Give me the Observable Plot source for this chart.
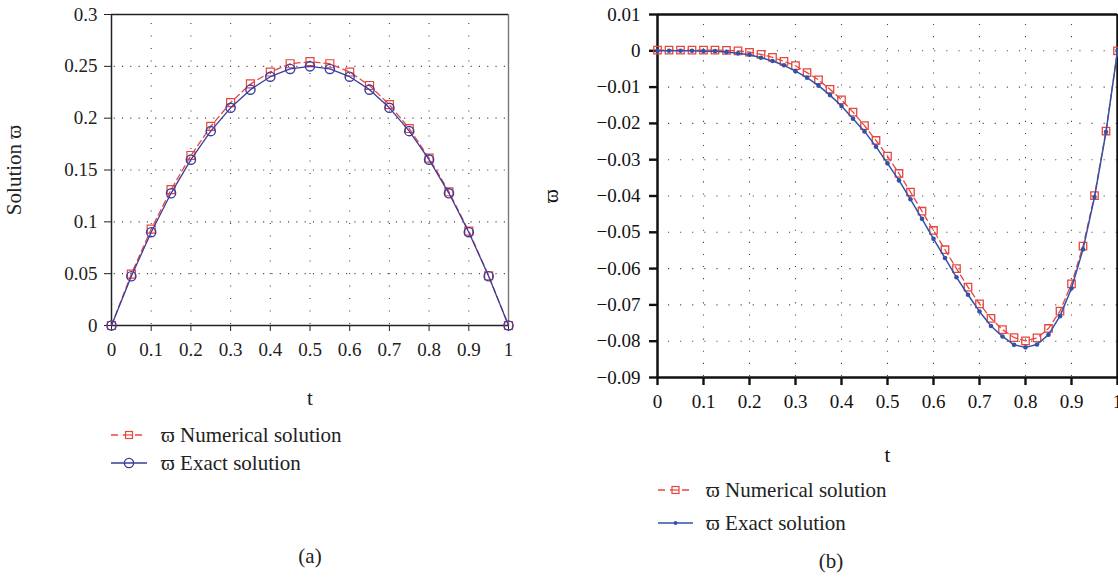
<!DOCTYPE html>
<html><head><meta charset="utf-8">
<script src="https://cdn.jsdelivr.net/npm/d3@7"></script>
<script src="https://cdn.jsdelivr.net/npm/@observablehq/plot@0.6"></script>
<style>
html,body{margin:0;padding:0;background:#fff;overflow:hidden;width:1118px;height:578px;}
body{position:relative;font-family:"Liberation Serif","Times New Roman",serif;color:#222;}
.abs{position:absolute;}
.leg{position:absolute;font-size:21px;line-height:22px;white-space:nowrap;transform:translateY(-50%);}
.sw{position:absolute;}
.cap{position:absolute;font-size:21px;line-height:22px;transform:translate(-50%,-50%);white-space:nowrap;}
#b svg [aria-label="x-axis tick"], #b svg [aria-label="y-axis tick"]{stroke-width:2.4px;}
svg [aria-label="x-axis label"], svg [aria-label="y-axis label"]{font-size:21px;}
</style></head><body>
<div id="a" class="abs" style="left:0;top:0"></div>
<div id="b" class="abs" style="left:540px;top:0"></div>
<div id="legends"></div>
<script>
// ---------- data: panel (a) ----------
const tA = [0,0.05,0.1,0.15,0.2,0.25,0.3,0.35,0.4,0.45,0.5,0.55,0.6,0.65,0.7,0.75,0.8,0.85,0.9,0.95,1];
const exactA = [0,0.0475,0.09,0.1275,0.16,0.1875,0.21,0.2275,0.24,0.2475,0.25,0.2475,0.24,0.2275,0.21,0.1875,0.16,0.1275,0.09,0.0475,0];
const numA = [0,0.0495,0.093,0.131,0.164,0.192,0.215,0.233,0.2445,0.2525,0.2545,0.2525,0.2445,0.2315,0.213,0.19,0.1615,0.129,0.091,0.048,0];
const xTicksA = [0,0.1,0.2,0.3,0.4,0.5,0.6,0.7,0.8,0.9,1];
const yTicksA = [0,0.05,0.1,0.15,0.2,0.25,0.3];
const gridXA = [0.1,0.2,0.3,0.4,0.5,0.6,0.7,0.8,0.9];
const gridYA = [0.05,0.1,0.15,0.2,0.25];

// ---------- data: panel (b) ----------
const tB = [0,0.025,0.05,0.075,0.1,0.125,0.15,0.175,0.2,0.225,0.25,0.275,0.3,0.325,0.35,0.375,0.4,0.425,0.45,0.475,0.5,0.525,0.55,0.575,0.6,0.625,0.65,0.675,0.7,0.725,0.75,0.775,0.8,0.825,0.85,0.875,0.9,0.925,0.95,0.975,1];
const exactB = [0,0,0,0,-0.0001,-0.0001,-0.0003,-0.0007,-0.0011,-0.0019,-0.0028,-0.0040,-0.0056,-0.0074,-0.0096,-0.0122,-0.0152,-0.0187,-0.0222,-0.0264,-0.0310,-0.0357,-0.0409,-0.0463,-0.0518,-0.0571,-0.0624,-0.0672,-0.0718,-0.0758,-0.0787,-0.0810,-0.0817,-0.0809,-0.0782,-0.0731,-0.0654,-0.0547,-0.0403,-0.0224,0];
const numB = [0.0002,0.0002,0.0002,0.0002,0.0002,0.0002,0.0001,0,-0.0004,-0.0010,-0.0018,-0.0029,-0.0041,-0.0060,-0.0080,-0.0106,-0.0135,-0.0169,-0.0206,-0.0247,-0.0290,-0.0338,-0.0389,-0.0442,-0.0495,-0.0548,-0.0600,-0.0651,-0.0697,-0.0737,-0.0768,-0.0790,-0.0799,-0.0791,-0.0765,-0.0717,-0.0642,-0.0538,-0.0399,-0.0221,0];
const xTicksB = [0,0.1,0.2,0.3,0.4,0.5,0.6,0.7,0.8,0.9,1];
const yTicksB = [0.01,0,-0.01,-0.02,-0.03,-0.04,-0.05,-0.06,-0.07,-0.08,-0.09];
const gridXB = [0.1,0.2,0.3,0.4,0.5,0.6,0.7,0.8,0.9];
const gridYB = [0,-0.01,-0.02,-0.03,-0.04,-0.05,-0.06,-0.07,-0.08];

const seriesNames = ["\u03D6 Numerical solution", "\u03D6 Exact solution"];

const RED = "#e8453c", BLUE_A = "#3c3c9e", BLUE_B = "#3152a6";
const FONT = '"Liberation Serif","Times New Roman",serif';
const fmt = d => d === 0 ? "0" : (d < 0 ? "\u2212" : "") + String(+Math.abs(d).toFixed(3));

const rowsA = tA.map((t, i) => ({t, num: numA[i], exact: exactA[i]}));
const rowsB = tB.map((t, i) => ({t, num: numB[i], exact: exactB[i]}));

const plotA = Plot.plot({
  width: 530, height: 410,
  marginLeft: 111, marginRight: 22, marginTop: 14, marginBottom: 85,
  style: {fontFamily: FONT, fontSize: "19px", color: "#222", background: "transparent"},
  x: {domain: [0, 1], ticks: xTicksA, tickSize: 6, tickPadding: 11, tickFormat: fmt,
      label: "t", labelAnchor: "center", labelOffset: 79, labelArrow: "none"},
  y: {domain: [0, 0.3], ticks: yTicksA, tickSize: 7, tickPadding: 7, tickFormat: fmt,
      label: "Solution \u03D6", labelAnchor: "center", labelOffset: 105, labelArrow: "none"},
  marks: [
    Plot.ruleX(gridXA, {stroke: "#444", strokeWidth: 1.1, strokeDasharray: "1.1,11.4", strokeDashoffset: -9}),
    Plot.ruleY(gridYA, {stroke: "#444", strokeWidth: 1.1, strokeDasharray: "1.1,7.2", strokeDashoffset: -11}),
    Plot.ruleX([1], {stroke: "#777", strokeWidth: 1.4}),
    Plot.ruleY([0.3], {stroke: "#222", strokeWidth: 1.4}),
    Plot.ruleX([0], {stroke: "#222", strokeWidth: 1.5}),
    Plot.ruleY([0], {stroke: "#222", strokeWidth: 1.5}),
    Plot.line(rowsA, {x: "t", y: "num", stroke: RED, strokeWidth: 1.3, strokeDasharray: "6,4"}),
    Plot.dot(rowsA, {x: "t", y: "num", symbol: "square", r: 4.5, stroke: RED, fill: "none", strokeWidth: 1.2}),
    Plot.line(rowsA, {x: "t", y: "exact", stroke: BLUE_A, strokeWidth: 1.3}),
    Plot.dot(rowsA, {x: "t", y: "exact", symbol: "circle", r: 4.6, stroke: BLUE_A, fill: "none", strokeWidth: 1.4})
  ]
});
document.getElementById("a").appendChild(plotA);

const plotB = Plot.plot({
  width: 578, height: 470,
  marginLeft: 117, marginRight: 1, marginTop: 14, marginBottom: 93,
  style: {fontFamily: FONT, fontSize: "19px", color: "#111", background: "transparent"},
  x: {domain: [0, 1], ticks: xTicksB, tickSize: 8, tickPadding: 9, tickFormat: fmt,
      label: "t", labelAnchor: "center", labelOffset: 84, labelArrow: "none"},
  y: {domain: [-0.09, 0.01], ticks: yTicksB, tickSize: 8, tickPadding: 9, tickFormat: fmt,
      label: "\u03D6", labelAnchor: "center", labelOffset: 114, labelArrow: "none"},
  marks: [
    Plot.ruleX(gridXB, {stroke: "#444", strokeWidth: 1.1, strokeDasharray: "1.1,11", strokeDashoffset: -10}),
    Plot.ruleY(gridYB, {stroke: "#444", strokeWidth: 1.1, strokeDasharray: "1.1,11", strokeDashoffset: -11}),
    Plot.ruleX([0, 1], {stroke: "#111", strokeWidth: 2.5}),
    Plot.ruleY([-0.09, 0.01], {stroke: "#111", strokeWidth: 2.5}),
    Plot.line(rowsB, {x: "t", y: "num", stroke: RED, strokeWidth: 1.3, strokeDasharray: "6,4"}),
    Plot.dot(rowsB, {x: "t", y: "num", symbol: "square", r: 4.2, stroke: RED, fill: "none", strokeWidth: 1.3}),
    Plot.line(rowsB, {x: "t", y: "exact", stroke: BLUE_B, strokeWidth: 1.5}),
    Plot.dot(rowsB, {x: "t", y: "exact", r: 2.3, fill: BLUE_B, stroke: "none"})
  ]
});
document.getElementById("b").appendChild(plotB);

// ---------- legends & captions ----------
const legendHost = document.getElementById("legends");
function swatch(x0, x1, cy, color, dashed, sym) {
  const w = x1 - x0, h = 16, m = w / 2;
  let s = `<svg class="sw" width="${w}" height="${h}" style="left:${x0}px;top:${cy - h/2}px">`;
  s += `<line x1="0" x2="${w}" y1="${h/2}" y2="${h/2}" stroke="${color}" stroke-width="1.5" ${dashed ? 'stroke-dasharray="7,5" stroke-dashoffset="0"' : ''}/>`;
  if (sym === "square") s += `<rect x="${m-3.5}" y="${h/2-3.5}" width="7" height="7" fill="#fff" stroke="${color}" stroke-width="1.2"/><line x1="${m-3.5}" x2="${m+3.5}" y1="${h/2}" y2="${h/2}" stroke="${color}" stroke-width="1.2"/>`;
  if (sym === "circle") s += `<circle cx="${m}" cy="${h/2}" r="4.6" fill="none" stroke="${color}" stroke-width="1.4"/>`;
  if (sym === "dot") s += `<circle cx="${m}" cy="${h/2}" r="2" fill="${color}"/>`;
  s += `</svg>`;
  return s;
}
function row(x0, x1, cy, tx, color, dashed, sym, label) {
  legendHost.insertAdjacentHTML("beforeend", swatch(x0, x1, cy, color, dashed, sym));
  const d = document.createElement("div");
  d.className = "leg"; d.style.left = tx + "px"; d.style.top = cy + "px";
  d.textContent = label;
  legendHost.appendChild(d);
}
row(111, 147, 435, 161, RED, true, "square", seriesNames[0]);
row(111, 147, 463, 161, BLUE_A, false, "circle", seriesNames[1]);
row(658, 693, 490, 706, RED, true, "square", seriesNames[0]);
row(658, 693, 523, 706, BLUE_B, false, "dot", seriesNames[1]);

function cap(x, y, txt) {
  const d = document.createElement("div");
  d.className = "cap"; d.style.left = x + "px"; d.style.top = y + "px"; d.textContent = txt;
  legendHost.appendChild(d);
}
cap(310, 556, "(a)");
cap(831, 561, "(b)");
</script>
</body></html>
